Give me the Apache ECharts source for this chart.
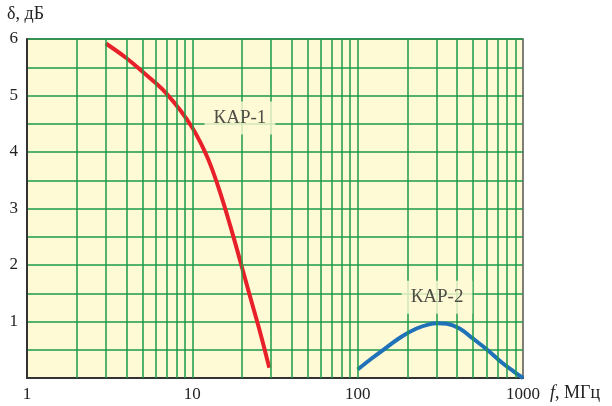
<!DOCTYPE html>
<html>
<head>
<meta charset="utf-8">
<script src="https://cdn.jsdelivr.net/npm/echarts@6/dist/echarts.min.js"></script>
<style>
html, body { margin: 0; padding: 0; background: #fff; }
#chart { width: 612px; height: 406px; }
</style>
</head>
<body>
<div id="chart"></div>
<script>
// КАР-1 curve (f, MHz ; delta, dB)
var kar1X = [3, 4, 5, 6, 7, 8.5, 10, 11.1, 12.8, 14.7, 16.9, 19.4, 22.3, 25.7, 29.2];
var kar1Y = [5.92, 5.66, 5.42, 5.22, 5.03, 4.73, 4.43, 4.19, 3.79, 3.29, 2.71, 2.09, 1.45, 0.81, 0.18];
// КАР-2 curve
var kar2X = [100, 122, 151, 186, 229, 270, 302, 347, 411, 492, 607, 747, 884, 1000];
var kar2Y = [0.15, 0.35, 0.55, 0.74, 0.88, 0.95, 0.97, 0.96, 0.88, 0.71, 0.50, 0.27, 0.11, 0.0];
// log grid lines of the x axis
var xGrid = [2, 3, 4, 5, 6, 7, 8, 9, 10, 20, 30, 40, 50, 60, 70, 80, 90, 100,
             200, 300, 400, 500, 600, 700, 800, 900];
var yTicks = [1, 2, 3, 4, 5, 6];
// curve labels
var labels = [
    { name: 'КАР-1', x: 19.4, y: 4.6 },
    { name: 'КАР-2', x: 302, y: 1.43 }
];

var serif = '"Liberation Serif", "DejaVu Serif", serif';
var green = '#1c9a48';
var bg = '#fefad5';

function pairs(xs, ys) {
    return xs.map(function (x, i) { return [x, ys[i]]; });
}

var chart = echarts.init(document.getElementById('chart'));
chart.setOption({
    animation: false,
    grid: {
        left: 27, right: 89, top: 39, bottom: 28,
        show: true,
        backgroundColor: bg,
        borderColor: '#555',
        borderWidth: 1.5
    },
    xAxis: {
        type: 'log',
        logBase: 10,
        min: 1,
        max: 1000,
        axisLine: { show: true, lineStyle: { color: '#333', width: 2 } },
        axisTick: { show: false },
        splitLine: { show: false },
        axisLabel: {
            color: '#222', fontFamily: serif, fontSize: 17, margin: 8,
            formatter: function (v) { return String(Math.round(v)); }
        }
    },
    yAxis: {
        type: 'value',
        min: 0,
        max: 6,
        interval: 0.5,
        axisLine: { show: true, lineStyle: { color: '#333', width: 2 } },
        axisTick: { show: false },
        splitLine: { show: true, lineStyle: { color: green, width: 1.5 } },
        axisLabel: {
            color: '#222', fontFamily: serif, fontSize: 17, margin: 9,
            formatter: function (v) { return yTicks.indexOf(v) >= 0 ? String(v) : ''; }
        }
    },
    graphic: [
        { type: 'text', left: 7, top: 5, style: { text: 'δ, дБ', font: '18px ' + serif, fill: '#222' } },
        {
            type: 'text', left: 550, top: 384,
            style: {
                text: '{i|f}, МГц',
                font: '18px ' + serif, fill: '#222',
                rich: { i: { fontStyle: 'italic', fontFamily: serif, fontSize: 18 } }
            }
        }
    ],
    series: [
        {
            // vertical log grid
            type: 'line',
            data: [],
            z: 1,
            silent: true,
            markLine: {
                silent: true,
                symbol: 'none',
                label: { show: false },
                lineStyle: { color: green, width: 1.5, type: 'solid' },
                data: xGrid.map(function (v) { return { xAxis: v }; })
            }
        },
        {
            name: 'КАР-1',
            type: 'line',
            z: 3,
            smooth: 0.4,
            showSymbol: false,
            lineStyle: { color: '#e8202a', width: 4 },
            data: pairs(kar1X, kar1Y)
        },
        {
            name: 'КАР-2',
            type: 'line',
            z: 3,
            smooth: 0.4,
            showSymbol: false,
            lineStyle: { color: '#1f72b8', width: 4 },
            data: pairs(kar2X, kar2Y)
        },
        {
            type: 'scatter',
            z: 5,
            silent: true,
            symbolSize: 0,
            data: labels.map(function (l) { return { name: l.name, value: [l.x, l.y] }; }),
            label: {
                show: true,
                position: 'inside',
                formatter: '{b}',
                color: '#222',
                fontFamily: serif,
                fontSize: 19,
                backgroundColor: bg,
                padding: [8, 9, 6, 9]
            }
        }
    ]
});
</script>
</body>
</html>
